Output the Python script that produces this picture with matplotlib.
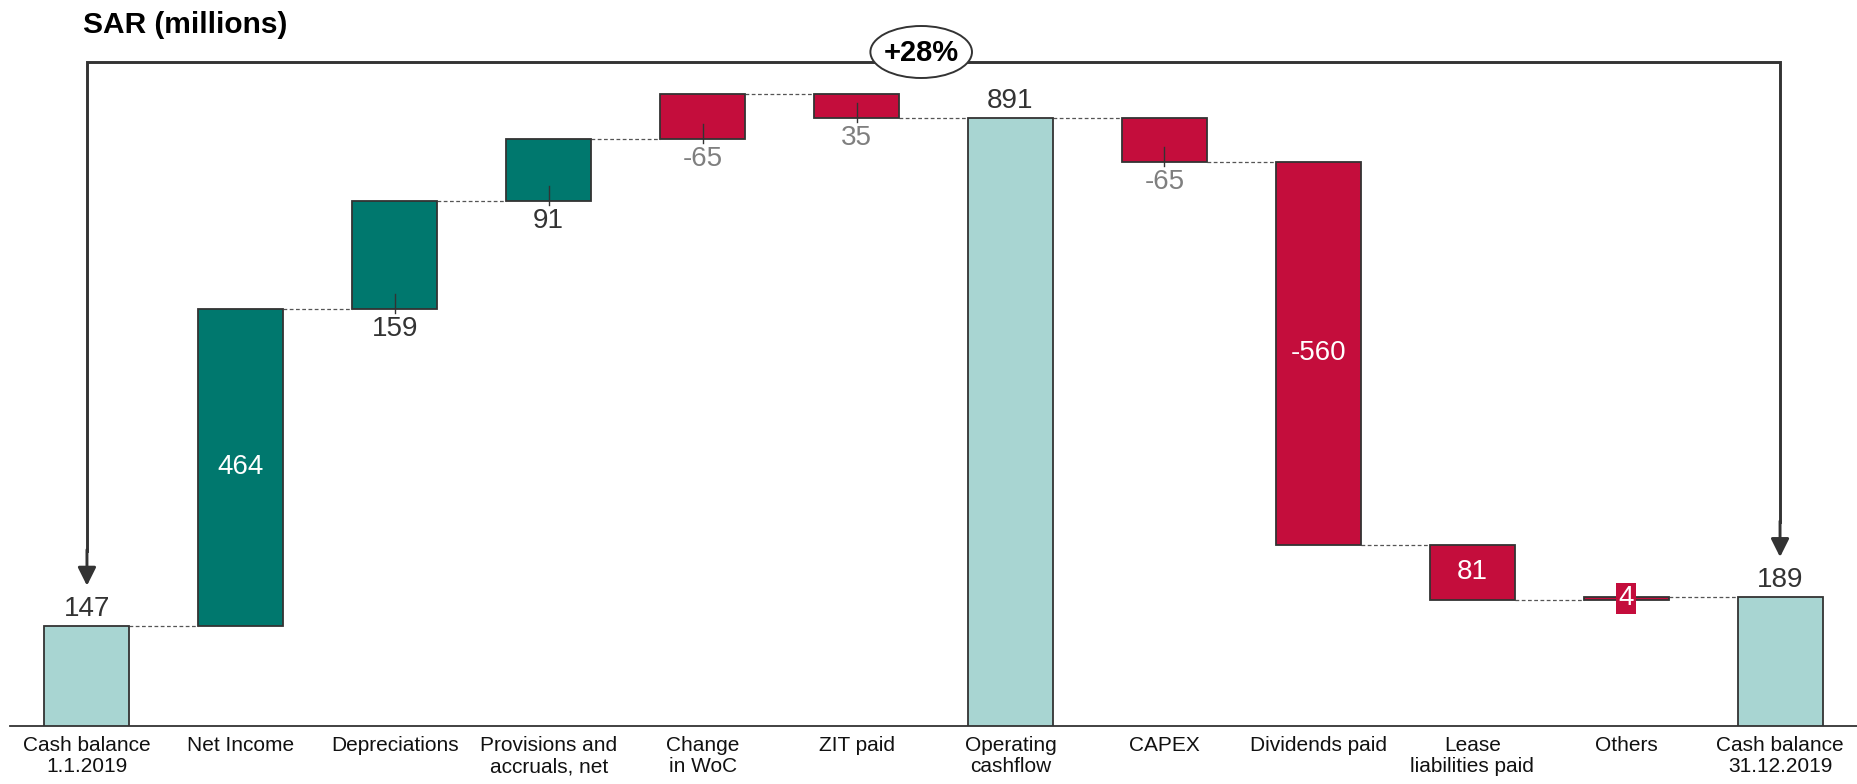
import matplotlib
matplotlib.use("Agg")
import matplotlib.pyplot as plt
from matplotlib.patches import Ellipse

plt.rcParams['font.family'] = ['Liberation Sans', 'DejaVu Sans']

# data
categories = ["Cash balance\n1.1.2019", "Net Income", "Depreciations",
              "Provisions and\naccruals, net", "Change\nin WoC", "ZIT paid",
              "Operating\ncashflow", "CAPEX", "Dividends paid",
              "Lease\nliabilities paid", "Others", "Cash balance\n31.12.2019"]
steps = [147, 464, 159, 91, 65, -35, None, -65, -560, -81, 4, None]  # None -> running total
value_labels = ["147", "464", "159", "91", "-65", "35", "891", "-65", "-560", "81", "4", "189"]
bar_kind = ["total", "pos", "pos", "pos", "neg", "neg", "total", "neg", "neg", "neg", "neg", "total"]
label_pos = ["above", "inside", "below", "below", "below", "below", "above",
             "below", "inside", "inside", "box", "above"]
growth_label = "+28%"
title = "SAR (millions)"

colors = {"total": "#A8D5D2", "pos": "#00786E", "neg": "#C40D3C"}
edge = "#333333"

W, H, DPI = 1857, 784, 100
YTOP = 1064
px = YTOP / 726.0   # data units per pixel in y

fig = plt.figure(figsize=(W / DPI, H / DPI), dpi=DPI)
ax = fig.add_axes([10 / W, 58 / H, 1847 / W, 726 / H])
ax.set_xlim(-0.5, 11.5)
ax.set_ylim(0, YTOP)
for s in ["left", "right", "top"]:
    ax.spines[s].set_visible(False)
ax.spines["bottom"].set_color(edge)
ax.spines["bottom"].set_linewidth(1.3)
ax.set_yticks([])
ax.set_xticks([])

bw = 0.552
running = 0
bottoms, tops = [], []
for i, d in enumerate(steps):
    if d is None:
        b, t = 0, running
    else:
        if i == 0:
            b, t = 0, d
            running = d
        else:
            b, t = min(running, running + d), max(running, running + d)
            running += d
    bottoms.append(b)
    tops.append(t)
    ax.bar(i, t - b, bottom=b, width=bw, color=colors[bar_kind[i]],
           edgecolor=edge, linewidth=1.3, zorder=3)

# end level of each bar (what the next bar starts from)
levels = []
run = 0
for i, d in enumerate(steps):
    if d is not None:
        run = d if i == 0 else run + d
    levels.append(run)

for i in range(len(steps) - 1):
    ax.plot([i + bw / 2, i + 1 - bw / 2], [levels[i], levels[i]], ls=(0, (3, 2)),
            color="#555555", lw=0.9, zorder=2)

for i, lab in enumerate(value_labels):
    b, t = bottoms[i], tops[i]
    if label_pos[i] == "above":
        ax.text(i, t + 17 * px, lab, ha="center", va="center", fontsize=20, color="#333333")
    elif label_pos[i] == "inside":
        ax.text(i, (b + t) / 2, lab, ha="center", va="center", fontsize=20, color="white", zorder=4)
    elif label_pos[i] == "box":
        ax.text(i, (b + t) / 2, lab, ha="center", va="center", fontsize=20, color="white", zorder=5,
                bbox=dict(boxstyle="square,pad=0.08", fc=colors["neg"], ec="none"))
    else:
        c = "#333333" if bar_kind[i] == "pos" else "#7F7F7F"
        ax.plot([i, i], [b + 15 * px, b - 4 * px], color=edge, lw=1.0, zorder=4)
        ax.text(i, b - 20 * px, lab, ha="center", va="center", fontsize=20, color=c)

for i, cat in enumerate(categories):
    ax.text(i, -10 * px, cat, ha="center", va="top", fontsize=15, color="#111111",
            linespacing=1.15, clip_on=False)

# growth bracket
line_y = YTOP - 62 * px
first, last = 0, len(steps) - 1
ax.plot([first, first, last, last], [tops[first] + 75 * px, line_y, line_y, tops[last] + 75 * px],
        color=edge, lw=2.1, zorder=2, solid_joinstyle="miter", clip_on=False)
for i in (first, last):
    ax.annotate("", xy=(i, tops[i] + 40 * px), xytext=(i, tops[i] + 76 * px),
                arrowprops=dict(arrowstyle="-|>,head_length=1.1,head_width=0.55",
                                color=edge, lw=2.1, shrinkA=0, shrinkB=0))
ax.add_patch(Ellipse((5.42, YTOP - 52 * px), 0.66, 52 * px, facecolor="white",
                     edgecolor=edge, lw=1.4, zorder=5, clip_on=False))
ax.text(5.42, YTOP - 53 * px, growth_label, ha="center", va="center", fontsize=21,
        fontweight="bold", color="black", zorder=6)

ax.text(-0.023, YTOP - 25 * px, title, ha="left", va="center", fontsize=21.5,
        fontweight="bold", color="black", clip_on=False)

fig.savefig("out.png", dpi=DPI)
